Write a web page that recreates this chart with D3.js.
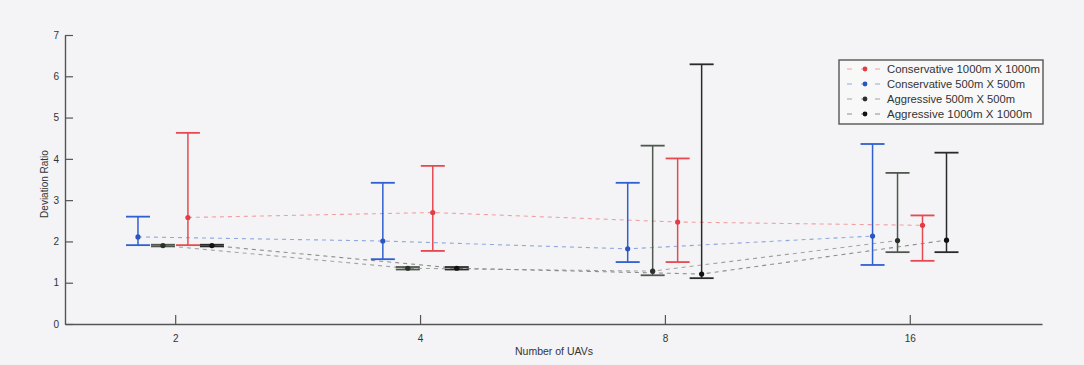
<!DOCTYPE html>
<html>
<head>
<meta charset="utf-8">
<script src="https://cdn.jsdelivr.net/npm/d3@7/dist/d3.min.js"></script>
<style>
  html, body { margin: 0; padding: 0; background: #f4f4f6; }
  svg { display: block; font-family: "Liberation Sans", Arial, sans-serif; }
</style>
</head>
<body>
<svg id="chart" width="1084" height="365"></svg>
<script>
// ---- data ----
const categories = ["2", "4", "8", "16"];
const yTicks = [0, 1, 2, 3, 4, 5, 6, 7];
const seriesNames = ["Conservative 1000m X 1000m", "Conservative 500m X 500m", "Aggressive 500m X 500m", "Aggressive 1000m X 1000m"];

const cons1000Mean = [2.58, 2.70, 2.47, 2.39];
const cons1000Low  = [1.91, 1.77, 1.50, 1.53];
const cons1000High = [4.63, 3.83, 4.01, 2.63];

const cons500Mean = [2.11, 2.01, 1.82, 2.13];
const cons500Low  = [1.91, 1.57, 1.50, 1.43];
const cons500High = [2.60, 3.42, 3.42, 4.36];

const agg500Mean = [1.90, 1.35, 1.28, 2.02];
const agg500Low  = [1.88, 1.32, 1.18, 1.74];
const agg500High = [1.92, 1.38, 4.32, 3.66];

const agg1000Mean = [1.90, 1.35, 1.21, 2.03];
const agg1000Low  = [1.88, 1.32, 1.11, 1.74];
const agg1000High = [1.92, 1.38, 6.29, 4.15];

// ---- styling / layout ----
const series = [
  { name: seriesNames[0], mean: cons1000Mean, low: cons1000Low, high: cons1000High, color: "#e64a50", dash: "#f0a0a2", dot: "#e23c44", off: 0.052, tl: 153 },
  { name: seriesNames[1], mean: cons500Mean, low: cons500Low, high: cons500High, color: "#2f5fd0", dash: "#8fa8dc", dot: "#2a55c0", off: -0.152, tl: 138 },
  { name: seriesNames[2], mean: agg500Mean, low: agg500Low, high: agg500High, color: "#4f574f", dash: "#a0a4a0", dot: "#2a302a", off: -0.050, tl: 128 },
  { name: seriesNames[3], mean: agg1000Mean, low: agg1000Low, high: agg1000High, color: "#2a2a2a", dash: "#8e8e8e", dot: "#111111", off: 0.150, tl: 145 }
];

const svg = d3.select("#chart");
const x = d3.scaleLinear().domain([0.55, 4.54]).range([65, 1042]);
const y = d3.scaleLinear().domain([0, 7]).range([324, 35]);

// axes
const xAxis = d3.axisBottom(x)
  .tickValues([1, 2, 3, 4])
  .tickFormat((d) => categories[d - 1])
  .tickSizeInner(-9).tickSizeOuter(0).tickPadding(11);
const yAxis = d3.axisLeft(y)
  .tickValues(yTicks)
  .tickFormat(d3.format("d"))
  .tickSizeInner(-8).tickSizeOuter(0).tickPadding(6);

const gx = svg.append("g").attr("transform", "translate(0,324)").call(xAxis);
const gy = svg.append("g").attr("transform", "translate(65,0)").call(yAxis);
[gx, gy].forEach(g => {
  g.select(".domain").attr("stroke", "#555").attr("stroke-width", 1.4);
  g.selectAll(".tick line").attr("stroke", "#555").attr("stroke-width", 1.2);
  g.selectAll(".tick text").attr("fill", "#333").attr("font-size", 10);
});

// axis labels
svg.append("text")
  .attr("x", 554).attr("y", 355)
  .attr("text-anchor", "middle").attr("font-size", 10.5).attr("fill", "#333")
  .text("Number of UAVs");
svg.append("text")
  .attr("transform", "translate(48,184) rotate(-90)")
  .attr("text-anchor", "middle").attr("font-size", 10).attr("fill", "#333")
  .text("Deviation Ratio");

const capHalf = 12;

// dashed connecting lines
series.forEach(s => {
  const line = d3.line()
    .x((d, i) => x(i + 1 + s.off))
    .y(d => y(d));
  svg.append("path")
    .datum(s.mean)
    .attr("d", line)
    .attr("fill", "none")
    .attr("stroke", s.dash)
    .attr("stroke-width", 1.1)
    .attr("stroke-dasharray", "4,4");
});

// error bars
series.forEach(s => {
  const g = svg.append("g");
  s.mean.forEach((m, i) => {
    const cx = x(i + 1 + s.off);
    const lo = y(s.low[i]), hi = y(s.high[i]);
    g.append("line").attr("x1", cx).attr("x2", cx).attr("y1", lo).attr("y2", hi)
      .attr("stroke", s.color).attr("stroke-width", 1.5);
    g.append("line").attr("x1", cx - capHalf).attr("x2", cx + capHalf).attr("y1", hi).attr("y2", hi)
      .attr("stroke", s.color).attr("stroke-width", 1.8);
    g.append("line").attr("x1", cx - capHalf).attr("x2", cx + capHalf).attr("y1", lo).attr("y2", lo)
      .attr("stroke", s.color).attr("stroke-width", 1.8);
    g.append("circle").attr("cx", cx).attr("cy", y(m)).attr("r", 2.6)
      .attr("fill", s.dot);
  });
});

// legend
const lg = svg.append("g").attr("transform", "translate(839,60)");
lg.append("rect").attr("width", 204).attr("height", 64)
  .attr("fill", "#f8f8f9").attr("stroke", "#555").attr("stroke-width", 1.4);
series.forEach((s, i) => {
  const yy = 9 + i * 15;
  lg.append("line").attr("x1", 7).attr("x2", 42).attr("y1", yy).attr("y2", yy)
    .attr("stroke", s.dash).attr("stroke-width", 1.2).attr("stroke-dasharray", "5,9").attr("stroke-dashoffset", -1);
  lg.append("circle").attr("cx", 26).attr("cy", yy).attr("r", 2.4).attr("fill", s.dot);
  lg.append("text").attr("x", 48).attr("y", yy + 3.6)
    .attr("font-size", 10.5).attr("fill", "#333")
    .attr("textLength", s.tl).attr("lengthAdjust", "spacingAndGlyphs")
    .text(s.name);
});
</script>
</body>
</html>
